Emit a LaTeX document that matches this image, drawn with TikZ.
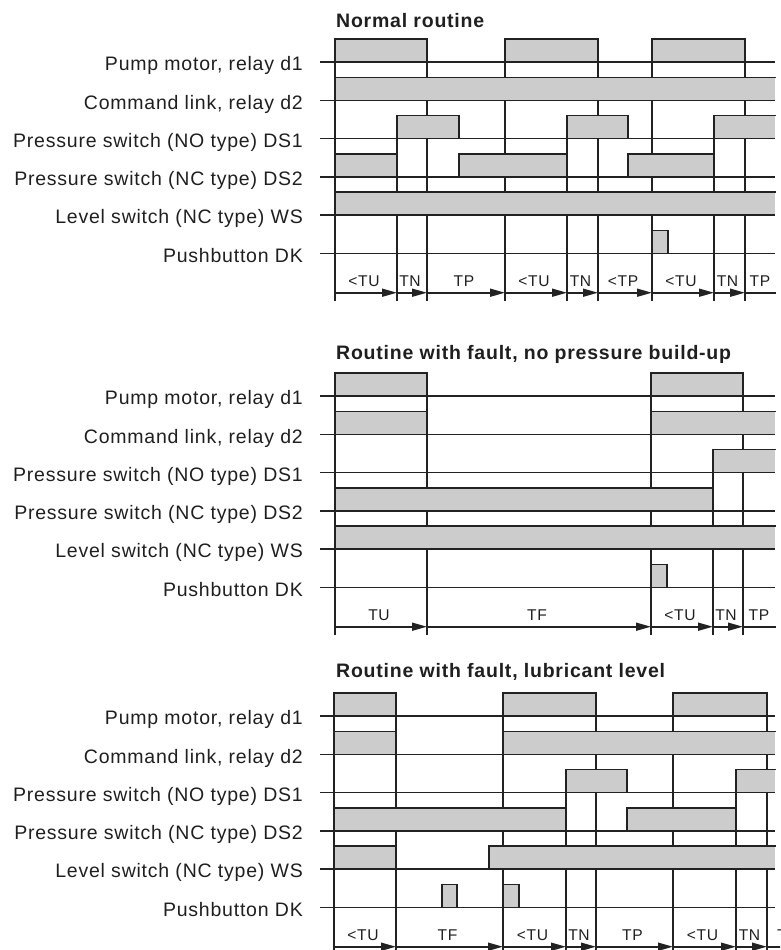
\documentclass[tikz,border=0pt]{standalone}
\usepackage{fontspec}
\setmainfont{Liberation Sans}[LetterSpace=4]
\usepackage{xcolor}
\usetikzlibrary{arrows.meta}

\definecolor{boxgray}{RGB}{204,204,204}
\definecolor{linegray}{RGB}{34,34,34}

\tikzset{
  edge/.style={line width=1.6pt, draw=linegray, line cap=rect},
  rowline/.style={line width=1.6pt, draw=linegray},
  lbl/.style={anchor=base east, inner sep=0pt, text=black!88,
              font=\fontsize{19.5}{21}\selectfont},
  ttl/.style={anchor=base west, inner sep=0pt, text=black!88,
              font=\fontsize{19.5}{21}\selectfont\bfseries},
  tlbl/.style={anchor=base, inner sep=0pt, text=black!88,
               font=\fontsize{15.6}{17}\selectfont},
  TA/.style={-{Triangle[length=15pt,width=8pt]}, line width=1.6pt, draw=linegray}
}

% pulse with closed right edge: x1, x2, baseline
\newcommand{\pulsebox}[3]{%
  \fill[boxgray] (#1,#3) rectangle (#2,#3-23);
  \draw[edge] (#1,#3) -- (#1,#3-23) -- (#2,#3-23) -- (#2,#3);}
% pulse running off the right end
\newcommand{\pulseopen}[3]{%
  \fill[boxgray] (#1,#3) rectangle (#2,#3-23);
  \draw[edge] (#1,#3) -- (#1,#3-23) -- (#2,#3-23);}
% signal rows and their labels
\newcommand{\rowframe}[1]{%
  \foreach \ry/\txt [count=\i] in {62/{Pump motor, relay d1},
      100.3/{Command link, relay d2},
      138.6/{Pressure switch (NO type) DS1},
      176.9/{Pressure switch (NC type) DS2},
      215.2/{Level switch (NC type) WS},
      253.5/{Pushbutton DK}} {
    \draw[rowline] (320,\ry) -- (775,\ry);
    \node[lbl] (#1-row\i) at (303,\ry+8.7) {\txt};
  }}
% time segment: name, x1, x2, label
\newcommand{\tseg}[4]{%
  \draw[TA] (#2,292.7) -- (#3,292.7);
  \node[tlbl] (#1) at ({(#2+#3)/2-2},286) {#4};}

\begin{document}
\begin{tikzpicture}[x=1pt,y=-1pt]
\useasboundingbox (0,0) rectangle (780,950);
\clip (0,0) rectangle (780,950);

% ---- Diagram 1: normal routine ----
\node[ttl] (title1) at (336,27.5) {Normal routine};
\foreach \xv/\yv in {335/39,397/115.6,427/39,505/39,567/115.6,598/39,652/39,714/115.6,745/39}
  \draw[edge] (\xv,\yv) -- (\xv,300);
\pulsebox{335}{427}{62} \pulsebox{505}{598}{62} \pulsebox{652}{745}{62}
\pulseopen{335}{775}{100.3}
\pulsebox{397}{459}{138.6} \pulsebox{567}{628}{138.6} \pulseopen{714}{775}{138.6}
\pulsebox{335}{397}{176.9} \pulsebox{459}{567}{176.9} \pulsebox{628}{714}{176.9}
\pulseopen{335}{775}{215.2}
\pulsebox{652}{668}{253.5}
\rowframe{a}
\tseg{a1}{335}{397}{<TU}
\tseg{a2}{397}{427}{TN}
\tseg{a3}{427}{505}{TP}
\tseg{a4}{505}{567}{<TU}
\tseg{a5}{567}{598}{TN}
\tseg{a6}{598}{652}{<TP}
\tseg{a7}{652}{714}{<TU}
\tseg{a8}{714}{745}{TN}
\draw[edge] (745,292.7) -- (775,292.7);
\node[tlbl] (a9) at (760,286) {TP};

% ---- Diagram 2: fault, no pressure build-up ----
\node[ttl] (title2) at (336,359.3) {Routine with fault, no pressure build-up};
\begin{scope}[yshift=-334pt]
\foreach \xv/\yv in {335/39,427/39,651/39,713/115.6,743/39}
  \draw[edge] (\xv,\yv) -- (\xv,300);
\pulsebox{335}{427}{62} \pulsebox{651}{743}{62}
\pulsebox{335}{427}{100.3} \pulseopen{651}{775}{100.3}
\pulseopen{713}{775}{138.6}
\pulsebox{335}{713}{176.9}
\pulseopen{335}{775}{215.2}
\pulsebox{651}{667}{253.5}
\rowframe{b}
\tseg{b1}{335}{427}{TU}
\tseg{b2}{427}{651}{TF}
\tseg{b3}{651}{713}{<TU}
\tseg{b4}{713}{743}{TN}
\draw[edge] (743,292.7) -- (775,292.7);
\node[tlbl] (b5) at (759,286) {TP};
\end{scope}

% ---- Diagram 3: fault, lubricant level ----
\node[ttl] (title3) at (336,677) {Routine with fault, lubricant level};
\begin{scope}[yshift=-654pt]
\foreach \xv/\yv in {334/39,396/39,503/39,566/115.6,596/39,673/39,736/115.6,767/39}
  \draw[edge] (\xv,\yv) -- (\xv,300);
\pulsebox{334}{396}{62} \pulsebox{503}{596}{62} \pulsebox{673}{767}{62}
\pulsebox{334}{396}{100.3} \pulseopen{503}{775}{100.3}
\pulsebox{566}{627}{138.6} \pulseopen{736}{775}{138.6}
\pulsebox{334}{566}{176.9} \pulsebox{627}{736}{176.9}
\pulsebox{334}{396}{215.2} \pulseopen{489}{775}{215.2}
\pulsebox{442}{457}{253.5} \pulsebox{503}{519}{253.5}
\rowframe{c}
\tseg{c1}{334}{396}{<TU}
\tseg{c2}{396}{503}{TF}
\tseg{c3}{503}{566}{<TU}
\tseg{c4}{566}{596}{TN}
\tseg{c5}{596}{673}{TP}
\tseg{c6}{673}{736}{<TU}
\tseg{c7}{736}{767}{TN}
\tseg{c8}{767}{812}{TP}
\end{scope}

\end{tikzpicture}
\end{document}
